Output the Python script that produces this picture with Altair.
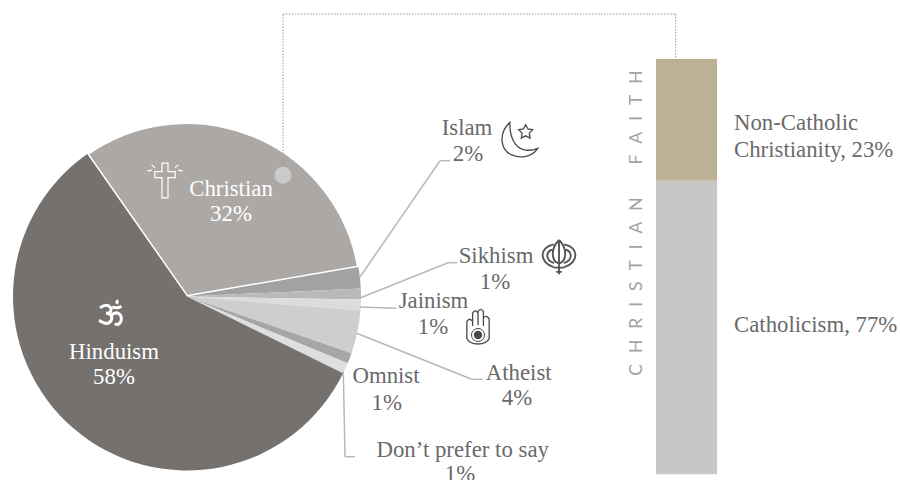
import math
import altair as alt
import pandas as pd

# Religious affiliation shares, clockwise from the Christian slice
religions = ["Christian", "Islam", "Sikhism", "Jainism", "Atheist", "Omnist", "Don't prefer to say", "Hinduism"]
religion_shares = [32, 2, 1, 1, 4, 1, 1, 58]
religion_colors = ["#aca8a6", "#a2a2a2", "#b9b9b9", "#dcdcdc", "#cfcdce", "#a6a6a6", "#dedede", "#75716f"]

# Breakdown of the Christian faith, bottom to top
denominations = ["Catholicism", "Non-Catholic Christianity"]
denomination_shares = [77, 23]
denomination_colors = ["#c8c7c5", "#bcb195"]

SERIF = "Liberation Serif"
TEXT = "#6a6a6a"
LEADER = "#b8b8b8"
DOTTED = "#9a9a9a"
ICON = "#4a4a4a"

pie_data = pd.DataFrame({"religion": religions, "share": religion_shares, "rank": range(len(religions))})
bar_data = pd.DataFrame({"denomination": denominations, "share": denomination_shares, "rank": range(len(denominations))})

start = math.radians(-35)

pie = (
    alt.Chart(pie_data)
    .mark_arc(radius=174, stroke="white")
    .encode(
        x=alt.value(187),
        y=alt.value(296.5),
        theta=alt.Theta("share:Q", stack=True, scale=alt.Scale(domain=[0, 100], range=[start, start + 2 * math.pi])),
        order=alt.Order("rank:Q"),
        color=alt.Color("religion:N", scale=alt.Scale(domain=religions, range=religion_colors), legend=None),
        # only the Christian slice is outlined; its neighbours cover half of the stroke
        strokeWidth=alt.condition("datum.religion === 'Christian'", alt.value(3), alt.value(0)),
    )
)

# The upper segment is drawn taller than its 23 share, so the scale has a knee at the split
bar = (
    alt.Chart(bar_data)
    .transform_stack(stack="share", groupby=[], sort=[alt.SortField("rank")], as_=["low", "high"])
    .mark_bar()
    .encode(
        x=alt.value(656),
        x2=alt.value(717),
        y=alt.Y("low:Q", axis=None, scale=alt.Scale(domain=[0, 77, 100], range=[474.3, 180.7, 59])),
        y2="high:Q",
        color=alt.Color("denomination:N", scale=alt.Scale(domain=denominations, range=denomination_colors), legend=None),
    )
)


def label(text, x, y, color=TEXT, align="center"):
    return alt.Chart().mark_text(
        text=text, font=SERIF, fontSize=22.8, color=color, align=align, baseline="alphabetic"
    ).encode(x=alt.value(x), y=alt.value(y))


def segment(x1, y1, x2, y2, color=LEADER, width=1.5, dash=None):
    props = dict(color=color, strokeWidth=width)
    if dash:
        props["strokeDash"] = dash
    return alt.Chart().mark_rule(**props).encode(
        x=alt.value(x1), y=alt.value(y1), x2=alt.value(x2), y2=alt.value(y2)
    )


def icon(path, x, y, span, color=ICON, width=1.3):
    return alt.Chart().mark_point(
        shape=path, size=span * span, opacity=1, fill="transparent", stroke=color, strokeWidth=width
    ).encode(x=alt.value(x), y=alt.value(y))


CROSS = (
    "M-.167 -.97 L.167 -.97 L.167 -.49 L.57 -.49 L.57 -.16 L.167 -.16 L.167 .97 L-.167 .97 "
    "L-.167 -.16 L-.57 -.16 L-.57 -.49 L-.167 -.49 Z "
    "M-.98 -.52 L-.72 -.58 M-.75 -.88 L-.55 -.7 M.98 -.52 L.72 -.58 M.75 -.88 L.55 -.7"
)
OM = (
    "M-.85 -.45 Q-.35 -.8 -.1 -.45 Q.05 -.08 -.42 -.05 Q.1 0 -.05 .45 Q-.3 .9 -.92 .45 "
    "M-.08 .12 Q.3 -.22 .55 .02 Q.78 .3 .58 .62 Q.42 .85 .2 .68 "
    "M.02 -.52 Q.3 -.36 .68 -.55 M.32 -.98 Q.42 -.85 .32 -.72"
)
CRESCENT = (
    "M-.53 -.93 C-1.15 -.35 -1.05 .55 -.4 .8 C0 .98 .65 .9 .93 .44 C.55 .6 .05 .6 -.25 .2 "
    "C-.5 -.15 -.55 -.55 -.53 -.93 Z "
    "M.3 -.8 L.42 -.58 L.67 -.54 L.49 -.36 L.53 -.1 L.3 -.22 L.07 -.1 L.11 -.36 L-.07 -.54 L.18 -.58 Z"
)
KHANDA = (
    "M-.3 -.75 C-1.15 -.6 -1.15 .3 -.3 .55 M-.28 -.5 C-.8 -.35 -.8 .15 -.28 .32 "
    "M.3 -.75 C1.15 -.6 1.15 .3 .3 .55 M.28 -.5 C.8 -.35 .8 .15 .28 .32 "
    "M0 -1 C.5 -.5 .45 .2 0 .35 C-.45 .2 -.5 -.5 0 -1 M0 -.9 L0 .95 M-.3 .58 L.3 .58 M-.16 .82 L.16 .82"
)
HAND = (
    "M-.62 .7 L-.62 -.25 Q-.46 -.5 -.3 -.25 L-.3 -.72 Q-.15 -.95 0 -.72 L0 -.8 Q.15 -1.05 .3 -.8 "
    "L.3 -.45 Q.46 -.65 .62 -.4 L.62 .7 Q.5 1 0 1 Q-.5 1 -.62 .7 Z "
    "M-.3 -.25 L-.3 .0 M0 -.75 L0 -.05 M.3 -.5 L.3 0"
)

leaders = [
    segment(360, 277, 440, 160.7), segment(440, 160.7, 450, 160.7),
    segment(360, 298, 448, 262.7), segment(448, 262.7, 457, 262.7),
    segment(360, 307, 396.5, 308.3),
    segment(356.7, 333.3, 471.7, 379.3), segment(471.7, 379.3, 482.7, 379.3),
    segment(343.3, 371.7, 345, 456.7), segment(345, 456.7, 355, 456.7),
]

# Connector running from the Christian slice up and over to the faith bar
connector = [
    segment(283, 166, 283, 14, DOTTED, 1, [1.5, 1.5]),
    segment(283, 14, 675.7, 14, DOTTED, 1, [1.5, 1.5]),
    segment(675.7, 14, 675.7, 59, DOTTED, 1, [1.5, 1.5]),
]
connector_dot = alt.Chart().mark_point(shape="circle", size=290, filled=True, color="#c9cacb", opacity=1).encode(
    x=alt.value(283), y=alt.value(175.3)
)

texts = [
    label("Christian", 231, 196, "white"), label("32%", 231, 220.7, "white"),
    label("Hinduism", 114, 359.3, "white"), label("58%", 114, 384.3, "white"),
    label("Islam", 467, 135), label("2%", 468, 161),
    label("Sikhism", 496, 263), label("1%", 495, 289),
    label("Jainism", 433.5, 308), label("1%", 433, 334),
    label("Atheist", 518.7, 380), label("4%", 517, 405),
    label("Omnist", 386, 383), label("1%", 386.7, 410),
    label("Don\u2019t prefer to say", 462.7, 456.7), label("1%", 460, 481),
    label("Non-Catholic", 734, 130, align="left"),
    label("Christianity, 23%", 734, 157, align="left"),
    label("Catholicism, 77%", 734, 331.7, align="left"),
]

GAP = "\u2002\u200a\u200a"
faith = alt.Chart().mark_text(
    text=GAP.join("CHRISTIAN") + GAP * 3 + GAP.join("FAITH"),
    font="Lato", fontSize=17.5, color="#a3a3a3", angle=270, align="center", baseline="middle",
).encode(x=alt.value(637), y=alt.value(223))

icons = [
    icon(CROSS, 165, 180.5, 36, "white", 1.2),
    icon(OM, 112, 314, 28, "white", 3),
    icon(CRESCENT, 520, 140, 38),
    icon(KHANDA, 559, 257.5, 35, "#555555", 1.9),
    icon(HAND, 478, 326, 36),
    alt.Chart().mark_point(shape="circle", size=170, fill="transparent", stroke=ICON, strokeWidth=1, opacity=1).encode(
        x=alt.value(478), y=alt.value(335)
    ),
    alt.Chart().mark_point(shape="circle", size=70, filled=True, color=ICON, opacity=1).encode(
        x=alt.value(478), y=alt.value(335)
    ),
]

chart = (
    alt.layer(pie, bar, *leaders, *connector, connector_dot, *texts, faith, *icons)
    .resolve_scale(color="independent", y="independent")
    .properties(
        width=900,
        height=480,
        padding=0,
        autosize=alt.AutoSizeParams(type="none"),
        background="white",
    )
    .configure_view(stroke=None)
)

chart.save("out.html", embed_options={"renderer": "svg", "actions": False})
